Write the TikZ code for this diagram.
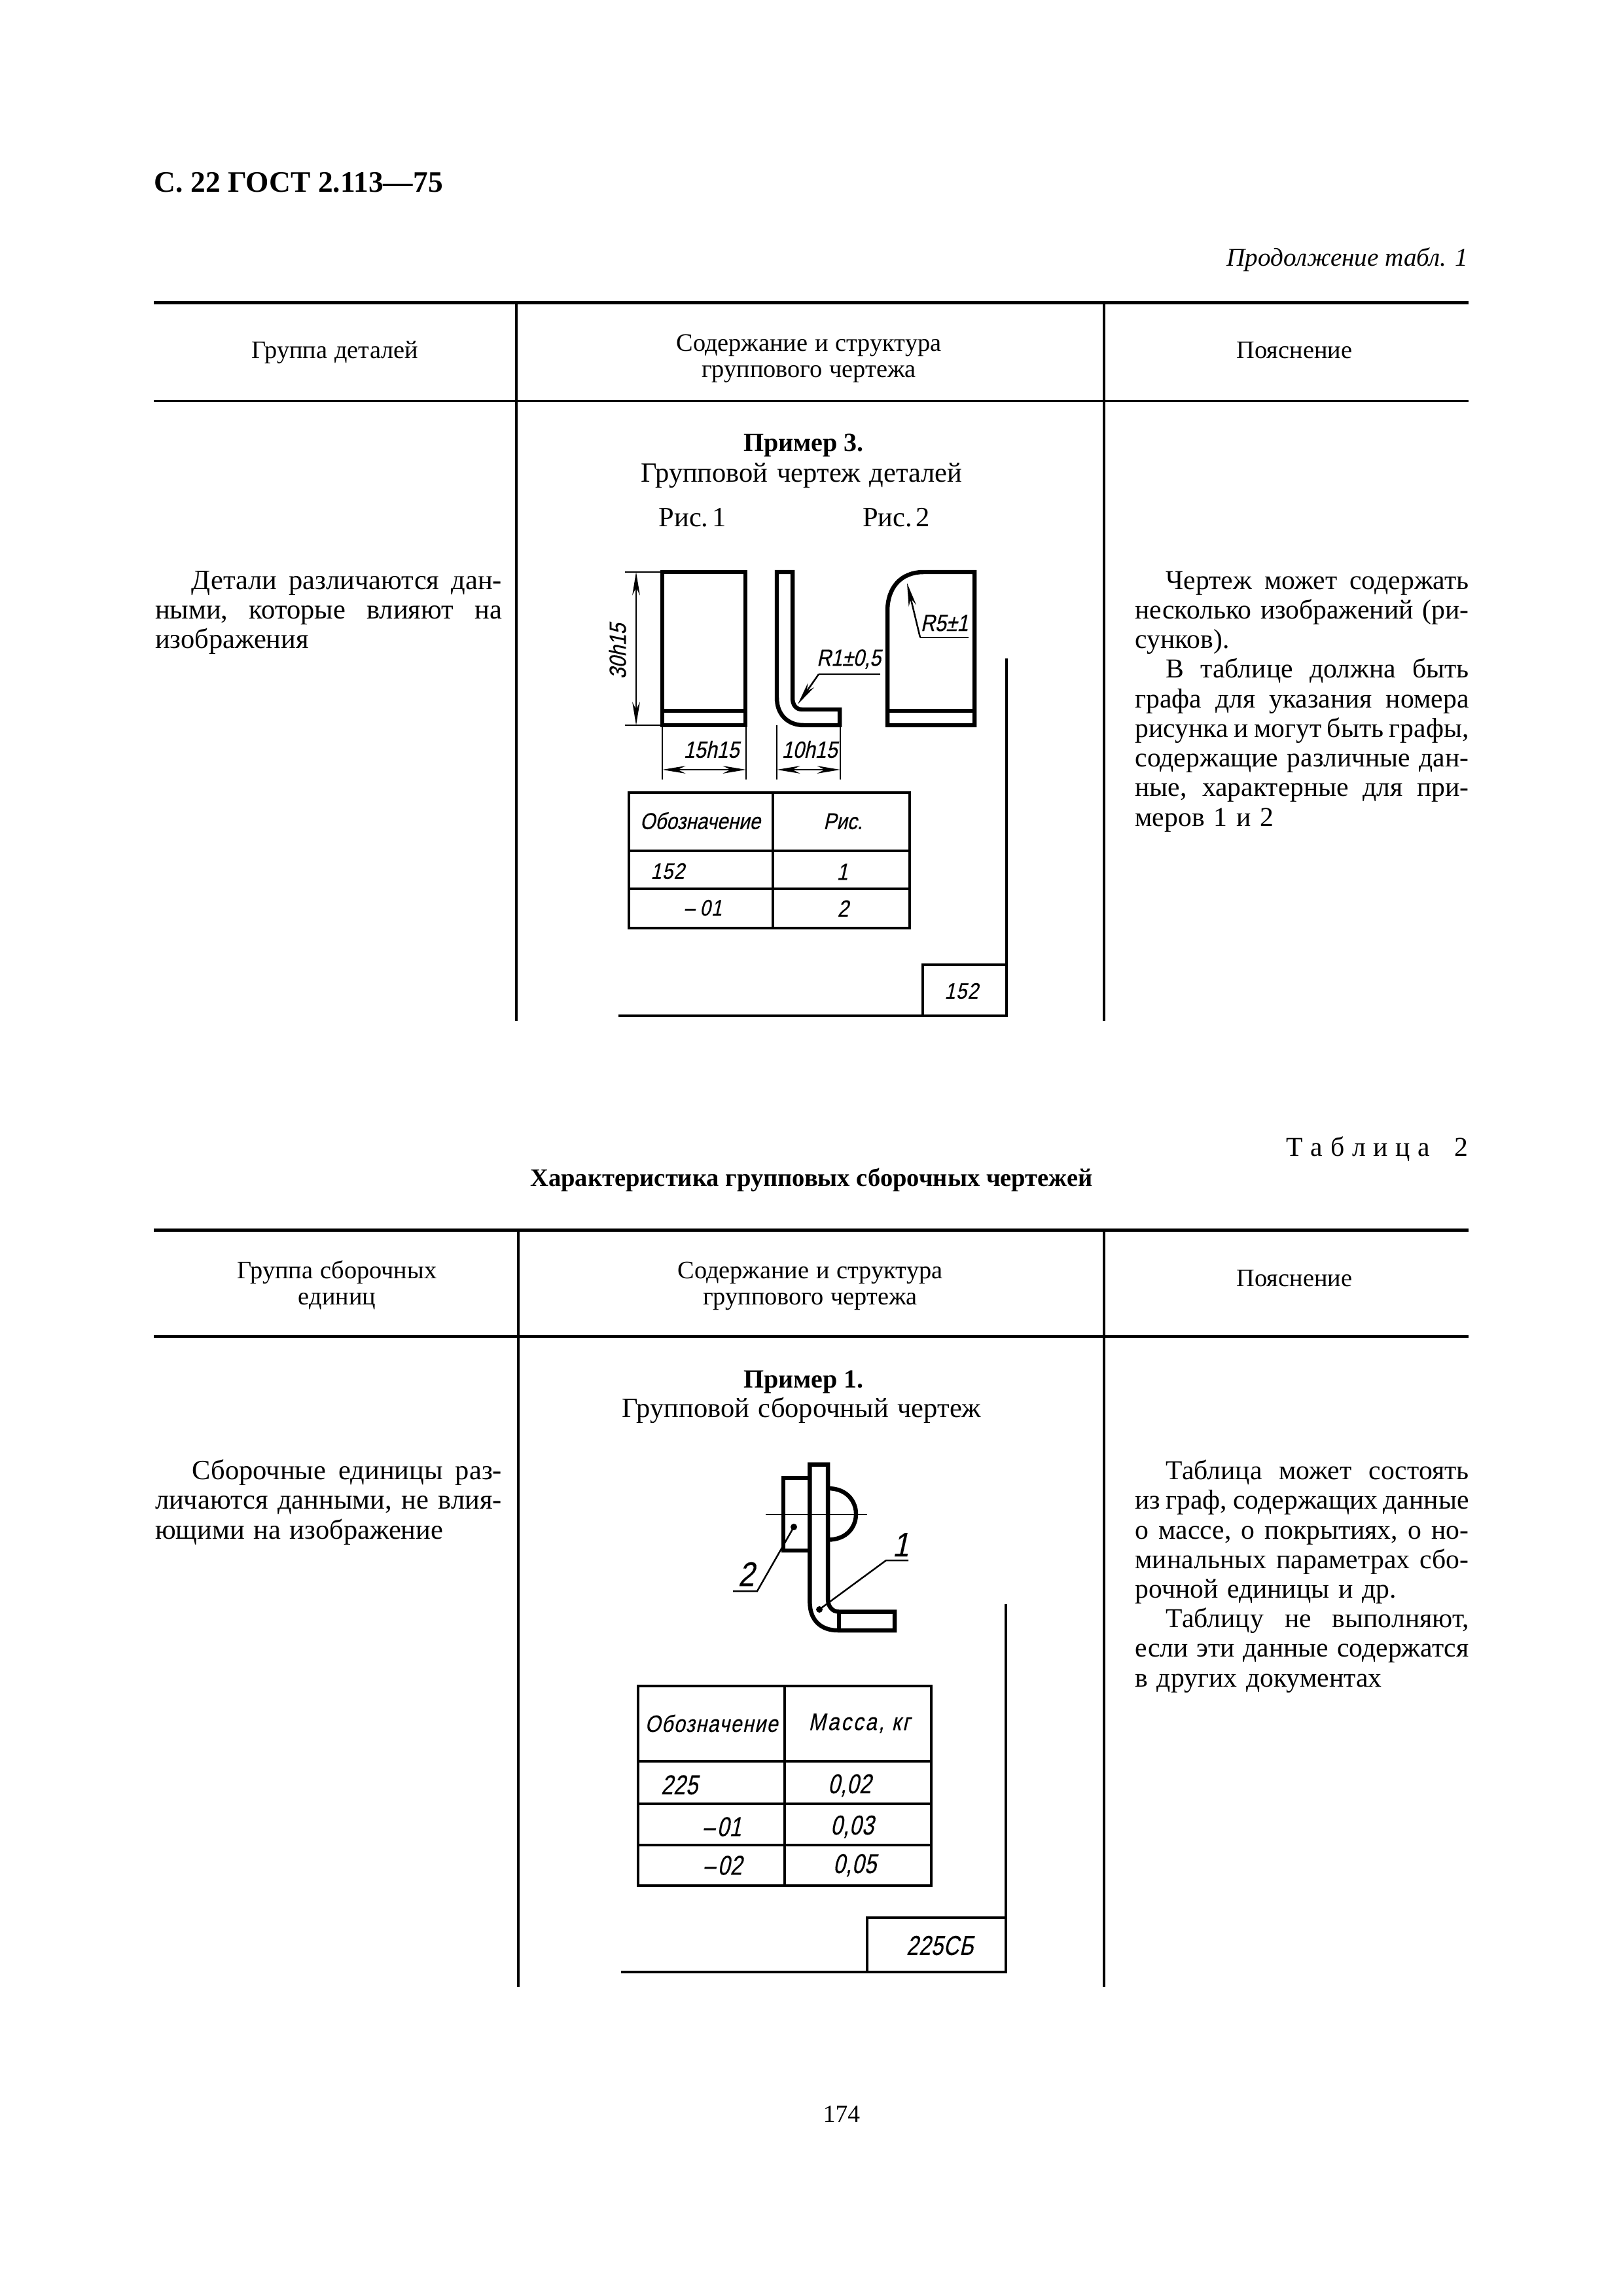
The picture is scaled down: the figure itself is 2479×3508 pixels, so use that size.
\documentclass[tikz,border=0pt]{standalone}
\usepackage{fontspec}
\usetikzlibrary{arrows.meta}
\setmainfont{Liberation Serif}
\newfontfamily\gost[FakeStretch=0.85,FakeSlant=0.22,FakeBold=0.3]{Liberation Sans}
\newfontfamily\gostw[FakeStretch=0.85,FakeSlant=0.22,FakeBold=0.3,LetterSpace=4]{Liberation Sans}
\newfontfamily\gostm[FakeStretch=0.85,FakeSlant=0.22,FakeBold=0.3,LetterSpace=8]{Liberation Sans}
\newfontfamily\gostn[FakeStretch=0.78,FakeSlant=0.22,FakeBold=0.3,LetterSpace=2]{Liberation Sans}
\newcommand{\jl}[2]{\hbox to #1{\strut #2}}
\newcommand{\jr}[1]{\jl{122.4pt}{#1}}
\newcommand{\jrl}[1]{\jl{122.4pt}{#1\hfil}}
\newcommand{\jL}[1]{\jl{127.2pt}{#1}}
\newcommand{\jLl}[1]{\jl{127.2pt}{#1\hfil}}
\newcommand{\wordgap}{\spaceskip=3.3pt plus 4pt minus 1.6pt\relax}
\newcommand{\headgap}{\spaceskip=2.6pt\relax}
\tikzset{
 x=0.24pt,y=-0.24pt,
 heavy/.style={line width=1.2pt},
 rule/.style={line width=0.8pt},
 part/.style={line width=1.55pt,line join=miter},
 thin line/.style={line width=0.6pt},
 cell/.style={line width=0.95pt},
 dimen/.style={line width=0.6pt,{Stealth[length=8.5pt,width=2.8pt]}-{Stealth[length=8.5pt,width=2.8pt]}},
 lead/.style={line width=0.6pt,-{Stealth[length=8.5pt,width=2.8pt]}},
 body/.style={inner sep=0pt,outer sep=0pt,font=\fontsize{10.2}{10.85}\selectfont\wordgap,anchor=base},
 para/.style={inner sep=0pt,outer sep=0pt,font=\fontsize{10.2}{10.85}\selectfont\wordgap,anchor=north west,align=left},
 parar/.style={inner sep=0pt,outer sep=0pt,font=\fontsize{10}{10.85}\selectfont\wordgap,anchor=north west,align=left},
 head/.style={inner sep=0pt,outer sep=0pt,font=\fontsize{9.2}{9.7}\selectfont\headgap,anchor=north,align=center},
 head1/.style={inner sep=0pt,outer sep=0pt,font=\fontsize{9.2}{9.7}\selectfont\headgap,anchor=base},
 gt/.style={inner sep=0pt,outer sep=0pt,font=\fontsize{8.4}{9}\gost},
 gs/.style={inner sep=0pt,outer sep=0pt,font=\fontsize{8.6}{9}\gost},
 gw/.style={inner sep=0pt,outer sep=0pt,font=\fontsize{8.2}{9}\gostw},
 gv/.style={inner sep=0pt,outer sep=0pt,font=\fontsize{8.6}{9}\gostw},
 gm/.style={inner sep=0pt,outer sep=0pt,font=\fontsize{8.8}{9}\gostm},
 gn/.style={inner sep=0pt,outer sep=0pt,font=\fontsize{10}{10}\gostn},
 gb/.style={inner sep=0pt,outer sep=0pt,font=\fontsize{12.5}{13}\gost},
}
\begin{document}
\begin{tikzpicture}
\fill[white] (0,0) rectangle (2479,3508);
\useasboundingbox (0,0) rectangle (2479,3508);
% page texts
\node[inner sep=0pt,anchor=base west,font=\fontsize{10.9}{14}\bfseries] (pagehead) at (235,293.5) {С. 22 ГОСТ 2.113—75};
\node[inner sep=0pt,anchor=base east,font=\fontsize{9.4}{12}\itshape] (cont) at (2244,407) {Продолжение табл. 1};
\node[inner sep=0pt,anchor=base east,font=\fontsize{10}{12}\selectfont] (tabno) at (2244,1766) {Т\kern2.8ptа\kern2.8ptб\kern2.8ptл\kern2.8ptи\kern2.8ptц\kern2.8ptа\kern9pt2};
\node[inner sep=0pt,anchor=base,font=\fontsize{9.25}{12}\bfseries] (tabtitle) at (1240,1812) {Характеристика групповых сборочных чертежей};
\node[body,font=\fontsize{9}{11}\selectfont] (pageno) at (1286,3242) {174};
% table 1 rules
\draw[heavy] (235,462.5) -- (2244,462.5);
\draw[rule] (235,612.6) -- (2244,612.6);
\draw[rule] (789,462.5) -- (789,1560);
\draw[rule] (1687,462.5) -- (1687,1560);
\node[head1] (h1a) at (512,548) {Группа деталей};
\node[head] (h1b) at (1236,508) {\strut Содержание и структура\\\strut группового чертежа};
\node[head1] (h1c) at (1978,548) {Пояснение};
\node[para] (t1left) at (237,868.7) {\jL{\hspace*{13.4pt}Детали различаются дан-}\\\jL{ными,\hfil которые\hfil влияют\hfil на}\\\jLl{изображения}};
\node[parar] (t1right) at (1734.5,868.7) {\jr{\hspace*{11.3pt}Чертеж может содержать}\\\jr{несколько изображений (ри-}\\\jrl{сунков).}\\\jr{\hspace*{11.3pt}В таблице должна быть}\\\jr{графа для указания номера}\\\jr{рисунка и могут быть графы,}\\\jr{содержащие различные дан-}\\\jr{ные, характерные для при-}\\\jrl{меров 1 и 2}};
\node[body,font=\fontsize{9.6}{12}\bfseries] (ex3) at (1228,690) {Пример 3.};
\node[body] (ex3b) at (1225,736.7) {Групповой чертеж деталей};
\node[body] (fig1) at (1058,805) {Рис.\kern1.3pt1};
\node[body] (fig2) at (1369.5,805) {Рис.\kern1.3pt2};
% part 1
\draw[part] (1012,874) rectangle (1139,1108);
\draw[part] (1012,1086) -- (1139,1086);
\draw[thin line] (955,874) -- (1012,874);
\draw[thin line] (955,1108) -- (1012,1108);
\coordinate (d30a) at (972,874);
\coordinate (d30b) at (972,1108);
\draw[dimen] (d30a) -- (d30b);
\node[gs,rotate=90] (l30) at (943.5,995) {30h15};
\coordinate (e15a) at (1012,1108);
\coordinate (e15b) at (1140,1108);
\draw[thin line] (e15a) -- (1012,1191);
\draw[thin line] (e15b) -- (1140,1191);
\draw[dimen] (1012,1176) -- (1140,1176);
\node[gs] (l15) at (1087,1145) {15h15};
% part 2
\draw[part] (1187,874) -- (1187,1066) .. controls (1187,1092) and (1204,1108) .. (1228,1108) -- (1283,1108) -- (1283,1084) -- (1226,1084) .. controls (1216,1084) and (1211,1077) .. (1211,1066) -- (1211,874) -- cycle;
\draw[thin line] (1187,1108) -- (1187,1191);
\draw[thin line] (1284,1108) -- (1284,1191);
\draw[dimen] (1187,1176) -- (1284,1176);
\node[gs] (l10) at (1237,1145) {10h15};
\coordinate (r1a) at (1345,1030);
\coordinate (r1b) at (1251,1030);
\coordinate (r1t) at (1219,1076);
\draw[thin line] (r1a) -- (r1b);
\draw[lead] (r1b) -- (r1t);
\node[gs] (lr1) at (1297,1007) {R1±0,5};
% part 3
\draw[part] (1356,1108) -- (1356,934) .. controls (1356,898) and (1376,874) .. (1412,874) -- (1489,874) -- (1489,1108) -- cycle;
\draw[part] (1356,1086) -- (1489,1086);
\coordinate (r5a) at (1480,974);
\coordinate (r5b) at (1406,974);
\coordinate (r5t) at (1386,891);
\draw[thin line] (r5a) -- (r5b);
\draw[lead] (r5b) -- (r5t);
\node[gs] (lr5) at (1443,952) {R5±1};
% table in example 3
\draw[cell] (961,1211) rectangle (1390,1418);
\draw[cell] (1181,1211) -- (1181,1418);
\draw[cell] (961,1300) -- (1390,1300);
\draw[rule] (961,1358) -- (1390,1358);
\node[gt] (a1) at (1070,1254) {Обозначение};
\node[gt] (a2) at (1288,1255) {Рис.};
\node[gw] (a3) at (1020,1331) {152};
\node[gs] (a4) at (1287,1332) {1};
\node[gw] (a5) at (1074,1387) {–\kern2pt01};
\node[gs] (a6) at (1288,1388) {2};
% frame
\draw[cell] (1537.5,1006) -- (1537.5,1552) -- (945,1552);
\draw[cell] (1410,1552) -- (1410,1474) -- (1537.5,1474);
\node[gw] (a7) at (1469,1514) {152};
% table 2 rules
\draw[heavy] (235,1879) -- (2244,1879);
\draw[rule] (235,2042) -- (2244,2042);
\draw[rule] (792,1879) -- (792,3036);
\draw[rule] (1687,1879) -- (1687,3036);
\node[head] (h2a) at (515,1925) {\strut Группа сборочных\\\strut единиц};
\node[head] (h2b) at (1238,1925) {\strut Содержание и структура\\\strut группового чертежа};
\node[head1] (h2c) at (1978,1965) {Пояснение};
\node[para] (t2left) at (237,2229) {\jL{\hspace*{13.6pt}Сборочные единицы раз-}\\\jL{личаются данными, не влия-}\\\jLl{ющими на изображение}};
\node[parar] (t2right) at (1734.5,2229) {\jr{\hspace*{11.3pt}Таблица может состоять}\\\jr{из граф, содержащих данные}\\\jr{о массе, о покрытиях, о но-}\\\jr{минальных параметрах сбо-}\\\jrl{рочной единицы и др.}\\\jr{\hspace*{11.3pt}Таблицу не выполняют,}\\\jr{если эти данные содержатся}\\\jrl{в других документах}};
\node[body,font=\fontsize{9.6}{12}\bfseries] (ex1) at (1228,2120) {Пример 1.};
\node[body] (ex1b) at (1225,2165) {Групповой сборочный чертеж};
% assembly
\draw[part] (1237.4,2237.5) -- (1237.4,2448) .. controls (1237.4,2475) and (1254,2491) .. (1280,2491) -- (1367,2491) -- (1367,2462.5) -- (1282,2462.5) .. controls (1272,2462.5) and (1265,2455) .. (1265,2442.5) -- (1265,2237.5) -- cycle;
\draw[part] (1282,2462.5) -- (1282,2491);
\draw[part] (1237.4,2258) -- (1197,2258) -- (1197,2369) -- (1237.4,2369);
\draw[part] (1265,2274) .. controls (1295,2274) and (1308,2295) .. (1308,2313) .. controls (1308,2332) and (1295,2352.5) .. (1265,2352.5);
\draw[thin line] (1170,2314) -- (1325,2314);
\coordinate (p2a) at (1120,2431);
\coordinate (p2b) at (1157,2431);
\coordinate (p2c) at (1213,2333);
\draw[thin line] (p2a) -- (p2b) -- (p2c);
\fill (p2c) circle (5);
\node[gb] (l2) at (1140,2405) {2};
\coordinate (p1a) at (1388,2384);
\coordinate (p1b) at (1354,2384);
\coordinate (p1c) at (1252,2459);
\draw[thin line] (p1a) -- (p1b) -- (p1c);
\fill (p1c) circle (5);
\node[gb] (l1) at (1376,2360) {1};
% table in example 1
\draw[cell] (975,2576) rectangle (1423,2881);
\draw[cell] (1199,2576) -- (1199,2881);
\draw[cell] (975,2691) -- (1423,2691);
\draw[rule] (975,2756) -- (1423,2756);
\draw[rule] (975,2819) -- (1423,2819);
\node[gv] (b1) at (1087,2633) {Обозначение};
\node[gm] (b2) at (1313,2633) {Масса, кг};
\node[gn] (b3) at (1038,2727) {225};
\node[gn] (b4) at (1298,2728) {0,02};
\node[gn] (b5) at (1103,2791) {–\kern1pt01};
\node[gn] (b6) at (1302,2791) {0,03};
\node[gn] (b7) at (1104,2850) {–\kern1pt02};
\node[gn] (b8) at (1306,2850) {0,05};
% frame
\draw[cell] (1536.5,2451) -- (1536.5,3012.5) -- (949,3012.5);
\draw[cell] (1325,3012.5) -- (1325,2930) -- (1536.5,2930);
\node[gn] (b9) at (1436,2972.5) {225СБ};
\end{tikzpicture}
\end{document}
